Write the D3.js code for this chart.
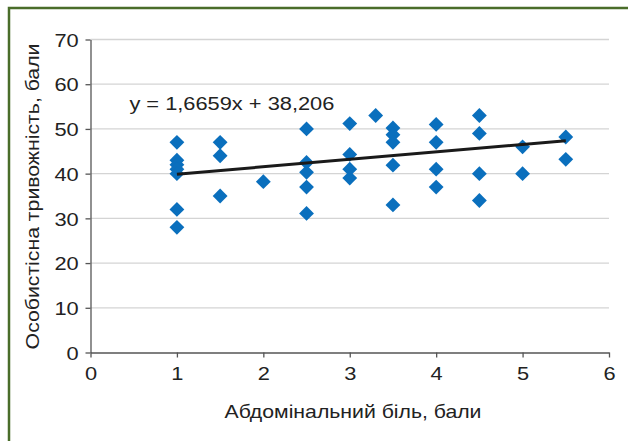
<!DOCTYPE html>
<html>
<head>
<meta charset="utf-8">
<script src="https://cdn.jsdelivr.net/npm/d3@7"></script>
<style>
  body { margin: 0; background: #fff; }
  svg text { font-family: "Liberation Sans", Arial, sans-serif; fill: #222; }
</style>
</head>
<body>
<svg id="chart" width="628" height="441"></svg>
<script>
// scores
var painX = [1, 1, 1, 1, 1, 1, 1,
             1.5, 1.5, 1.5,
             2,
             2.5, 2.5, 2.5, 2.5, 2.5,
             3, 3, 3, 3,
             3.3,
             3.5, 3.5, 3.5, 3.5, 3.5,
             4, 4, 4, 4,
             4.5, 4.5, 4.5, 4.5,
             5, 5,
             5.5, 5.5];
var anxietyY = [47, 43, 42, 41, 40, 32, 28,
                47, 44, 35,
                38.2,
                50, 42.5, 40.3, 37, 31.1,
                51.2, 44.3, 41, 39,
                53,
                50.2, 48.7, 47, 41.9, 33,
                51, 47, 41, 37,
                53, 49, 40, 34,
                46, 40,
                48.2, 43.2];
var xTicks = [0, 1, 2, 3, 4, 5, 6];
var yTicks = [0, 10, 20, 30, 40, 50, 60, 70];
var slope = 1.6659, intercept = 38.206;
var trendRange = [1, 5.5];
var equationLabel = "y = 1,6659x + 38,206";

var svg = d3.select("svg#chart"),
    margin = { top: 39.5, right: 19, bottom: 88.5, left: 90.5 },
    width = 628 - margin.left - margin.right,
    height = 441 - margin.top - margin.bottom,
    stretch = 1.18; // the source text is set wide

// green frame (top and left only)
svg.append("path")
    .attr("d", "M9,441V8H628")
    .attr("fill", "none")
    .attr("stroke", "#4a6d2a")
    .attr("stroke-width", 2.5);

var g = svg.append("g").attr("transform", "translate(" + margin.left + "," + margin.top + ")");

var x = d3.scaleLinear().domain([0, 6]).range([0, width]);
var y = d3.scaleLinear().domain([0, 70]).range([height, 0]);

// gridlines
g.append("g")
    .selectAll("line")
    .data(yTicks.slice(1))
    .enter().append("line")
    .attr("x1", 0)
    .attr("x2", width)
    .attr("y1", function (d) { return y(d); })
    .attr("y2", function (d) { return y(d); })
    .attr("stroke", "#d4d4d4")
    .attr("stroke-width", 1.3);

var xAxis = g.append("g")
    .attr("transform", "translate(0," + height + ")")
    .call(d3.axisBottom(x).tickValues(xTicks).tickFormat(d3.format("d"))
        .tickSize(5).tickPadding(9).tickSizeOuter(0));

var yAxis = g.append("g")
    .call(d3.axisLeft(y).tickValues(yTicks).tickFormat(d3.format("d"))
        .tickSize(5).tickPadding(5).tickSizeOuter(0));

[xAxis, yAxis].forEach(function (a) {
    a.select(".domain").attr("stroke", "#555").attr("stroke-width", 1.3);
    a.selectAll(".tick line").attr("stroke", "#555").attr("stroke-width", 1.3);
    a.selectAll("text")
        .style("font-size", "18.5px")
        .style("font-family", "'Liberation Sans', Arial, sans-serif")
        .attr("fill", "#222")
        .attr("transform", "scale(" + stretch + ",1)");
});
yAxis.selectAll("text").attr("dy", "0.36em");

// points
var points = painX.map(function (v, i) { return [v, anxietyY[i]]; });
g.append("g")
    .selectAll("path")
    .data(points)
    .enter().append("path")
    .attr("d", d3.symbol(d3.symbolSquare, 110))
    .attr("transform", function (d) { return "translate(" + x(d[0]) + "," + y(d[1]) + ") rotate(45)"; })
    .attr("fill", "#0a6fbd");

// trend line
g.append("line")
    .attr("x1", x(trendRange[0]))
    .attr("y1", y(slope * trendRange[0] + intercept))
    .attr("x2", x(trendRange[1]))
    .attr("y2", y(slope * trendRange[1] + intercept))
    .attr("stroke", "#1a1a1a")
    .attr("stroke-width", 3);

g.append("text")
    .attr("transform", "translate(" + x(0.45) + "," + y(54.2) + ") scale(" + stretch + ",1)")
    .style("font-size", "18.5px")
    .text(equationLabel);

// axis titles
svg.append("text")
    .attr("transform", "translate(353,418) scale(" + stretch + ",1)")
    .attr("text-anchor", "middle")
    .style("font-size", "18px")
    .text("Абдомінальний біль, бали");

svg.append("text")
    .attr("transform", "translate(39,196.5) rotate(-90) scale(" + stretch + ",1)")
    .attr("text-anchor", "middle")
    .style("font-size", "18px")
    .text("Особистісна тривожність, бали");
</script>
</body>
</html>
